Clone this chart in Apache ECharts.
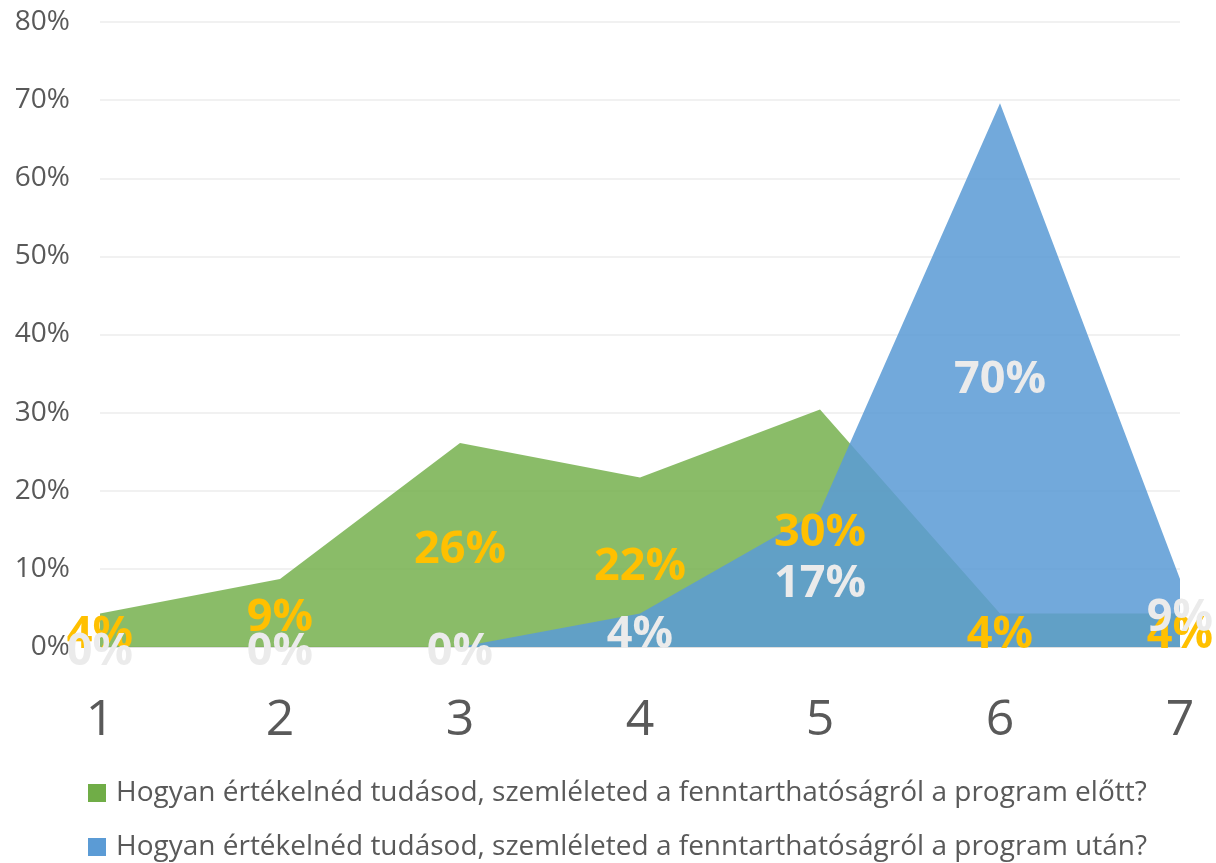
<!DOCTYPE html>
<html>
<head>
<meta charset="utf-8">
<script src="https://cdn.jsdelivr.net/npm/echarts@6/dist/echarts.min.js"></script>
<style>html,body{margin:0;padding:0;background:#fff}#c{width:1216px;height:863px}</style>
</head>
<body>
<div id="c"></div>
<script>
const categories = ['1', '2', '3', '4', '5', '6', '7'];
const seriesNames = [
  'Hogyan értékelnéd tudásod, szemléleted a fenntarthatóságról a program előtt?',
  'Hogyan értékelnéd tudásod, szemléleted a fenntarthatóságról a program után?'
];
const before = [4.3, 8.7, 26.1, 21.7, 30.4, 4.3, 4.3];
const after = [0, 0, 0, 4.3, 17.4, 69.6, 8.7];
const yTicks = [0, 10, 20, 30, 40, 50, 60, 70, 80];

const FONT = 'Open Sans';
const greenColor = '#70AD47';
const blueColor = '#5B9BD5';

function labelSeries(vals, color, z) {
  return {
    type: 'scatter',
    symbolSize: 0,
    silent: true,
    z: z,
    itemStyle: { opacity: 1 },
    data: vals.map((v, i) => [categories[i], v / 2]),
    label: {
      show: true,
      position: 'inside',
      offset: [0, 5],
      formatter: p => Math.round(vals[p.dataIndex]) + '%',
      color: color,
      opacity: 1,
      fontFamily: FONT,
      fontWeight: 'bold',
      fontSize: 45
    },
    tooltip: { show: false }
  };
}

const chart = echarts.init(document.getElementById('c'));
chart.setOption({
  animation: false,
  backgroundColor: '#fff',
  grid: { left: 100, right: 36, top: 22, bottom: 216, containLabel: false },
  xAxis: {
    type: 'category',
    data: categories,
    boundaryGap: false,
    axisLine: { lineStyle: { color: '#D9D9D9', width: 1.5 } },
    axisTick: { show: false },
    axisLabel: { color: '#595959', fontFamily: FONT, fontSize: 50, margin: 49 }
  },
  yAxis: {
    type: 'value',
    min: yTicks[0], max: yTicks[yTicks.length - 1], interval: 10,
    axisLine: { show: false },
    axisTick: { show: false },
    splitLine: { lineStyle: { color: '#EDEDED', width: 1.5 } },
    axisLabel: { color: '#595959', fontFamily: FONT, fontSize: 28, margin: 30, formatter: '{value}%' }
  },
  legend: {
    orient: 'vertical',
    left: 88,
    top: 777,
    padding: 0,
    itemWidth: 18,
    itemHeight: 18,
    itemGap: 22,
    icon: 'rect',
    textStyle: { color: '#595959', fontFamily: FONT, fontSize: 28, lineHeight: 32, padding: [0, 0, 0, 5] },
    data: seriesNames
  },
  series: [
    {
      name: seriesNames[0],
      type: 'line',
      data: before,
      symbol: 'none',
      lineStyle: { width: 0 },
      itemStyle: { color: greenColor },
      areaStyle: { color: greenColor, opacity: 0.82 },
      z: 2
    },
    {
      name: seriesNames[1],
      type: 'line',
      data: after,
      symbol: 'none',
      lineStyle: { width: 0 },
      itemStyle: { color: blueColor },
      areaStyle: { color: blueColor, opacity: 0.86 },
      z: 3
    },
    labelSeries(before, '#FFC000', 5),
    labelSeries(after, '#EBEBEB', 6)
  ]
});
</script>
</body>
</html>
